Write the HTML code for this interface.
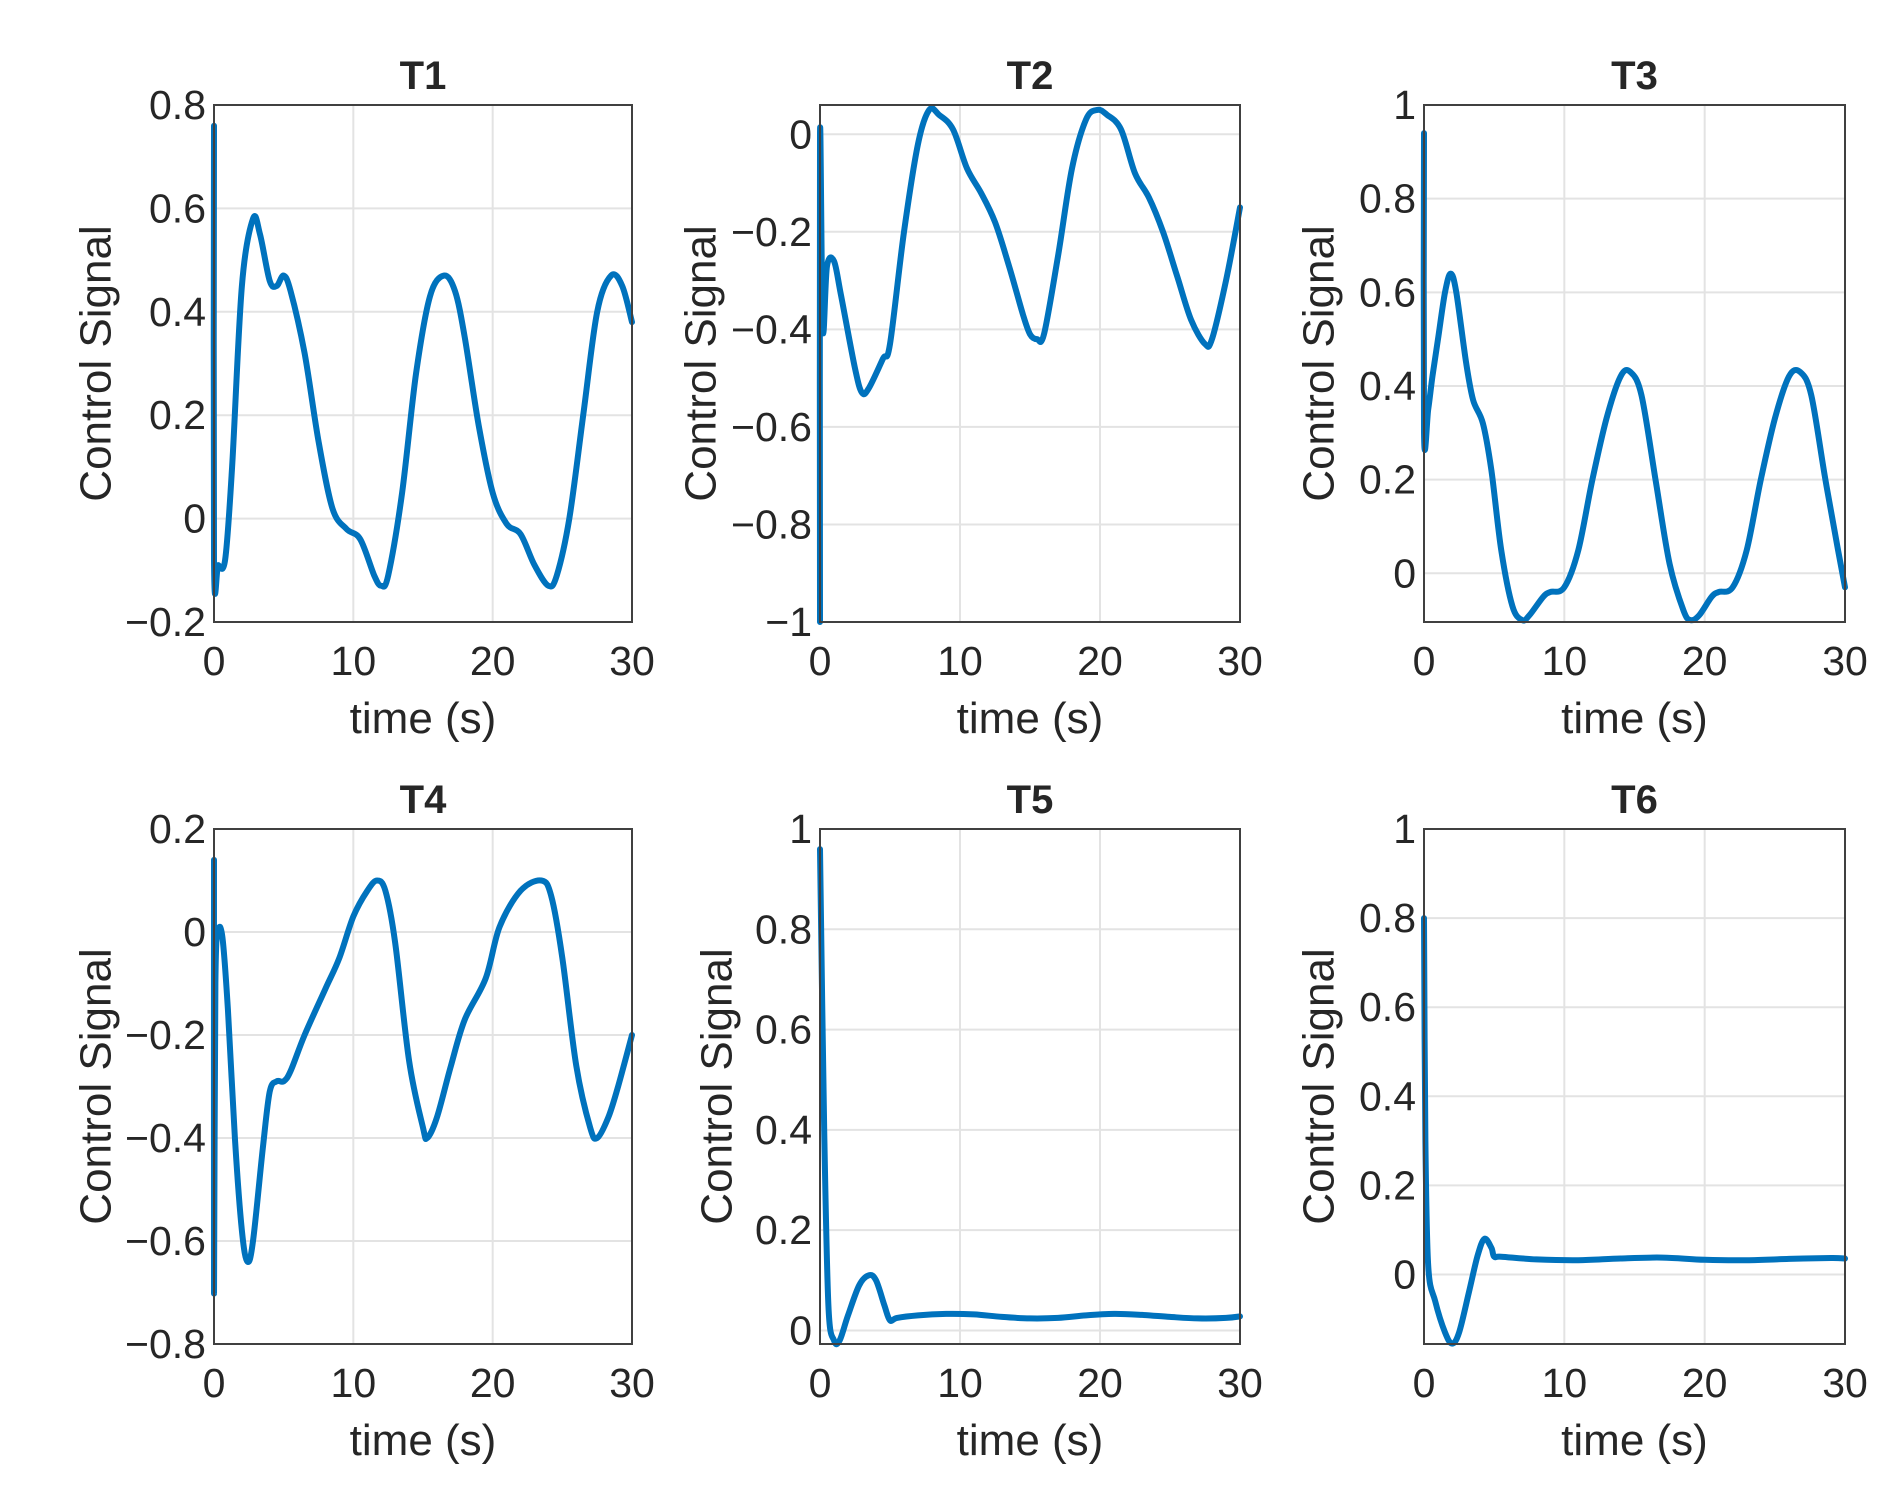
<!DOCTYPE html>
<html><head><meta charset="utf-8"><style>
html,body{margin:0;padding:0;background:#fff;}
svg{display:block;}
text{font-family:"Liberation Sans",Arial,sans-serif;fill:#262626;}
</style></head><body>
<svg id="s" width="1899" height="1498" xmlns="http://www.w3.org/2000/svg"></svg>
<script>
const S=document.getElementById('s');
const NS='http://www.w3.org/2000/svg';
function el(t,a,txt){const e=document.createElementNS(NS,t);for(const k in a)e.setAttribute(k,a[k]);if(txt!==undefined)e.textContent=txt;S.appendChild(e);return e;}
const cols=[[214,632],[820,1240],[1424,1845]];
const rows=[[105,622],[829,1344]];
const plots=[
 {t:'T1',ylim:[-0.2,0.8],ticks:[-0.2,0,0.2,0.4,0.6,0.8],yl:95,
  p:[[0,0.76],[0,-0.08],[0.3,-0.09],[0.8,-0.08],[1.3,0.1],[2,0.45],[2.8,0.58],[3.3,0.55],[4,0.46],[4.5,0.45],[5,0.47],[5.5,0.44],[6.5,0.32],[7.5,0.15],[8.5,0.02],[9.5,-0.02],[10.5,-0.04],[11.5,-0.11],[12,-0.13],[12.5,-0.11],[13.5,0.05],[14.5,0.28],[15.5,0.43],[16.5,0.47],[17.3,0.44],[18,0.35],[19,0.18],[20,0.05],[21,-0.01],[22,-0.03],[23,-0.09],[24,-0.13],[24.6,-0.11],[25.5,0.0],[26.5,0.2],[27.5,0.4],[28.5,0.47],[29.3,0.45],[30,0.38]]},
 {t:'T2',ylim:[-1,0.06],ticks:[-1,-0.8,-0.6,-0.4,-0.2,0],yl:700,
  p:[[0,-1],[0,0],[0.2,-0.4],[0.5,-0.27],[1,-0.26],[1.5,-0.33],[2.5,-0.48],[3,-0.53],[3.5,-0.52],[4.5,-0.46],[5,-0.43],[6,-0.2],[7,-0.02],[7.8,0.05],[8.5,0.04],[9.5,0.01],[10.5,-0.07],[11.5,-0.12],[12.5,-0.18],[13.5,-0.27],[14.5,-0.37],[15,-0.41],[15.5,-0.42],[16,-0.41],[17,-0.25],[18,-0.07],[19,0.03],[19.8,0.05],[20.5,0.04],[21.5,0.01],[22.5,-0.08],[23.5,-0.13],[24.5,-0.2],[25.5,-0.29],[26.5,-0.38],[27.5,-0.43],[28,-0.42],[29,-0.3],[30,-0.15]]},
 {t:'T3',ylim:[-0.104,1],ticks:[0,0.2,0.4,0.6,0.8,1],yl:1318,
  p:[[0,0.94],[0,0.3],[0.3,0.35],[0.6,0.42],[1,0.5],[1.5,0.6],[1.9,0.64],[2.3,0.6],[3,0.45],[3.5,0.37],[4.2,0.32],[4.8,0.22],[5.5,0.05],[6.3,-0.07],[7,-0.1],[7.5,-0.09],[8.5,-0.05],[9,-0.04],[10,-0.03],[11,0.05],[12,0.2],[13,0.33],[14,0.42],[14.7,0.43],[15.5,0.38],[16.5,0.2],[17.5,0.02],[18.5,-0.08],[19,-0.1],[19.6,-0.09],[20.5,-0.05],[21,-0.04],[22,-0.03],[23,0.05],[24,0.2],[25,0.33],[26,0.42],[26.8,0.43],[27.6,0.38],[28.6,0.2],[29.5,0.05],[30,-0.03]]},
 {t:'T4',ylim:[-0.8,0.2],ticks:[-0.8,-0.6,-0.4,-0.2,0,0.2],yl:95,
  p:[[0,0.14],[0,-0.7],[0.1,-0.1],[0.3,0.0],[0.6,-0.01],[1,-0.15],[1.5,-0.4],[2,-0.58],[2.4,-0.64],[2.8,-0.6],[3.5,-0.42],[4,-0.31],[4.5,-0.29],[5,-0.29],[5.5,-0.27],[6.5,-0.2],[8,-0.11],[9,-0.05],[10,0.03],[11,0.08],[11.7,0.1],[12.3,0.08],[13,-0.02],[14,-0.25],[15,-0.38],[15.3,-0.4],[16,-0.36],[17,-0.26],[18,-0.17],[19.5,-0.09],[20.5,0.01],[22,0.08],[23.5,0.1],[24.2,0.07],[25,-0.05],[26,-0.26],[27,-0.38],[27.5,-0.4],[28.3,-0.36],[29,-0.3],[30,-0.2]]},
 {t:'T5',ylim:[-0.027,1],ticks:[0,0.2,0.4,0.6,0.8,1],yl:716,
  p:[[0,0.96],[0.3,0.4],[0.6,0.05],[1,-0.02],[1.4,-0.02],[2,0.03],[2.8,0.09],[3.5,0.11],[4,0.1],[4.6,0.05],[5,0.02],[5.5,0.025],[7,0.03],[9,0.033],[11,0.032],[13,0.027],[15,0.024],[17,0.025],[19,0.03],[21,0.033],[23,0.031],[25,0.027],[27,0.024],[29,0.025],[30,0.028]]},
 {t:'T6',ylim:[-0.156,1],ticks:[0,0.2,0.4,0.6,0.8,1],yl:1318,
  p:[[0,0.8],[0.1,0.3],[0.3,0.02],[0.8,-0.06],[1.5,-0.13],[2,-0.155],[2.5,-0.13],[3.2,-0.04],[3.8,0.04],[4.3,0.08],[4.8,0.06],[5,0.04],[5.5,0.04],[8,0.034],[11,0.032],[14,0.036],[17,0.038],[20,0.033],[23,0.032],[26,0.035],[29,0.037],[30,0.036]]}
];
function smooth(pts){
 let d='M'+pts[0][0].toFixed(1)+','+pts[0][1].toFixed(1);
 for(let i=0;i<pts.length-1;i++){
  const p0=pts[Math.max(0,i-1)],p1=pts[i],p2=pts[i+1],p3=pts[Math.min(pts.length-1,i+2)];
  const t=1/6;
  const c1=[p1[0]+(p2[0]-p0[0])*t,p1[1]+(p2[1]-p0[1])*t];
  const c2=[p2[0]-(p3[0]-p1[0])*t,p2[1]-(p3[1]-p1[1])*t];
  d+=' C'+c1.map(v=>v.toFixed(1)).join(',')+' '+c2.map(v=>v.toFixed(1)).join(',')+' '+p2.map(v=>v.toFixed(1)).join(',');
 }
 return d;
}
plots.forEach((P,i)=>{
 const [x0,x1]=cols[i%3],[y0,y1]=rows[Math.floor(i/3)];
 const X=v=>x0+(x1-x0)*v/30, Y=v=>y1-(y1-y0)*(v-P.ylim[0])/(P.ylim[1]-P.ylim[0]);
 el('rect',{x:x0,y:y0,width:x1-x0,height:y1-y0,fill:'#fff'});
 [10,20].forEach(v=>el('line',{x1:X(v),x2:X(v),y1:y0,y2:y1,stroke:'#e3e3e3','stroke-width':2}));
 P.ticks.forEach(v=>{const y=Y(v);if(y>y0+1&&y<y1-1)el('line',{x1:x0,x2:x1,y1:y,y2:y,stroke:'#e3e3e3','stroke-width':2});});
 el('path',{d:smooth(P.p.map(q=>[X(q[0]),Y(q[1])])),fill:'none',stroke:'#0072BD','stroke-width':6,'stroke-linejoin':'round','stroke-linecap':'round'});
 el('rect',{x:x0,y:y0,width:x1-x0,height:y1-y0,fill:'none',stroke:'#404040','stroke-width':2});
 P.ticks.forEach(v=>{const y=Y(v);const s=(v<0?'\u2212':'')+String(Math.abs(v));el('text',{x:x0-8,y:y+14,'text-anchor':'end','font-size':41},s);});
 [0,10,20,30].forEach(v=>el('text',{x:X(v),y:y1+53,'text-anchor':'middle','font-size':41},String(v)));
 el('text',{x:(x0+x1)/2,y:y1+111,'text-anchor':'middle','font-size':44},'time (s)');
 el('text',{x:(x0+x1)/2,y:y0-16,'text-anchor':'middle','font-size':40,'font-weight':'bold',fill:'#000'},P.t);
 const cy=(y0+y1)/2;
 el('text',{x:P.yl,y:cy,'text-anchor':'middle','font-size':44,transform:'rotate(-90 '+P.yl+' '+cy+')',dy:'0.35em'},'Control Signal');
});
</script>
</body></html>
